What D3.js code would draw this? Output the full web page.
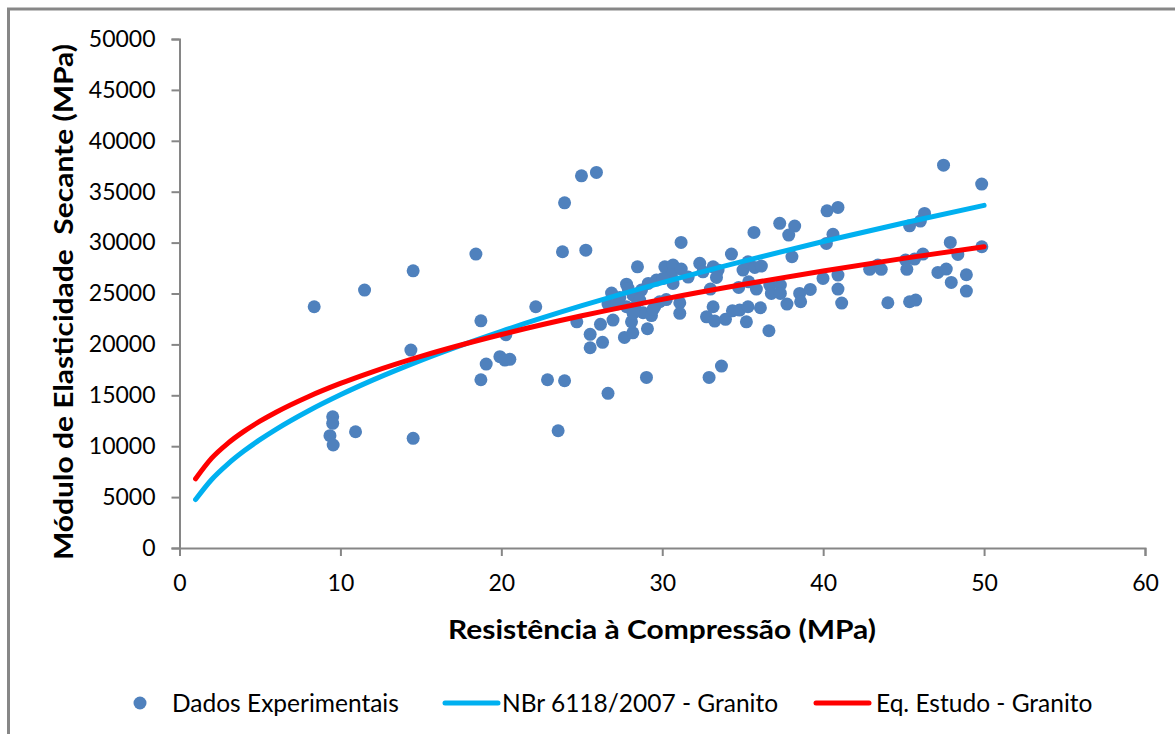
<!DOCTYPE html>
<html>
<head>
<meta charset="utf-8">
<script src="https://cdn.jsdelivr.net/npm/d3@7/dist/d3.min.js"></script>
<style>
  html, body { margin: 0; padding: 0; background: #fff; }
  svg { display: block; font-family: Lato, "Open Sans", sans-serif; }
</style>
</head>
<body>
<svg id="chart" width="1175" height="734"></svg>
<script>
// Experimental results: compressive strength (MPa) vs secant modulus (MPa)
const expX = [
  8.37, 11.5, 14.52, 18.42, 23.8, 22.14, 18.73, 20.28, 14.38, 19.91,
  20.53, 20.22, 19.06, 18.73, 22.87, 23.93, 9.52, 9.52, 9.35, 9.55,
  10.94, 14.52, 23.53, 24.98, 25.91, 23.93, 25.25, 31.17, 28.46, 24.69,
  26.16, 25.52, 25.52, 26.29, 27.65, 28.17, 29.08, 26.63, 29.02, 26.85,
  26.63, 27.36, 27.78, 27.88, 28.19, 28.71, 28.6, 27.78, 27.16, 29.13,
  29.64, 30.16, 30.67, 30.57, 30.67, 31.18, 31.61, 32.33, 26.94, 28.09,
  28.81, 29.33, 29.53, 29.84, 30.25, 31.09, 31.09, 30.05, 28.29, 29.43,
  28.19, 40.24, 40.92, 37.3, 38.23, 37.86, 35.7, 40.61, 40.2, 34.3,
  38.06, 32.53, 33.16, 33.47, 33.37, 35.02, 35.33, 35.75, 36.16, 32.99,
  34.75, 35.37, 35.85, 36.68, 36.78, 37.34, 37.34, 37.75, 38.54, 38.6,
  39.2, 39.99, 40.92, 40.92, 41.15, 33.16, 32.75, 33.26, 33.93, 34.36,
  34.81, 35.33, 35.23, 36.1, 36.63, 33.68, 32.91, 47.48, 49.85, 46.3,
  46.04, 45.37, 47.9, 48.37, 49.86, 46.2, 45.12, 45.68, 45.2, 43.4,
  42.89, 43.61, 47.13, 47.65, 47.96, 48.9, 48.9, 44.02, 45.37, 45.75
];
const expY = [
  23700, 25340, 27230, 28870, 29100, 23700, 22320, 20950, 19440, 18790,
  18530, 18460, 18070, 16530, 16530, 16430, 12890, 12250, 11030, 10120,
  11420, 10770, 11520, 36560, 36890, 33910, 29260, 30020, 27620, 22220,
  21970, 20990, 19670, 20200, 20690, 21140, 21540, 15190, 16760, 25040,
  23960, 24600, 25920, 25500, 24840, 25340, 24350, 23700, 23960, 25990,
  26320, 27620, 27790, 26810, 25990, 27400, 26610, 27960, 22390, 22220,
  23110, 22830, 23700, 24190, 24400, 24090, 23050, 26480, 23700, 23440,
  23050, 33120, 33460, 31890, 31620, 30740, 31000, 30810, 29920, 28870,
  28610, 27130, 27620, 27300, 26580, 27300, 28110, 27560, 27690, 25430,
  25600, 26150, 25430, 25830, 25010, 25830, 25010, 23960, 25010, 24190,
  25400, 26480, 26810, 25430, 24060, 23700, 22710, 22290, 22460, 23300,
  23370, 23700, 22220, 23600, 21340, 17870, 16760, 37610, 35750, 32870,
  32110, 31650, 30020, 28840, 29590, 28870, 28280, 28380, 27370, 27790,
  27370, 27370, 27070, 27400, 26090, 26840, 25240, 24090, 24190, 24350
];

// Model curves sampled along the strength range
const curveX   = [1, 2, 3, 4, 5, 6, 8, 10, 12, 15, 20, 25, 30, 35, 40, 45, 50];
const nbrE     = [4760, 6732, 8245, 9520, 10644, 11660, 13463, 15052, 16489, 18435,
                  21287, 23800, 26072, 28161, 30105, 31931, 33658];
const estudoE  = [6800, 8825, 10278, 11452, 12454, 13338, 14862, 16164, 17309, 18824,
                  20973, 22811, 24426, 25885, 27218, 28453, 29600];

const xTicks = [0, 10, 20, 30, 40, 50, 60];
const yTicks = [0, 5000, 10000, 15000, 20000, 25000, 30000, 35000, 40000, 45000, 50000];

const legendLabels = ["Dados Experimentais", "NBr 6118/2007 - Granito", "Eq. Estudo - Granito"];
const xTitle = "Resistência à Compressão (MPa)";
const yTitle = "Módulo de Elasticidade  Secante (MPa)";

const colors = { points: "#4F81BD", nbr: "#00B0F0", estudo: "#FF0000", axis: "#868686" };

const svg = d3.select("#chart");

// outer chart frame
svg.append("rect")
  .attr("x", 8.5).attr("y", 9)
  .attr("width", 1200).attr("height", 800)
  .attr("fill", "none").attr("stroke", "#878787").attr("stroke-width", 3);

const x = d3.scaleLinear().domain([0, 60]).range([179.5, 1145]);
const y = d3.scaleLinear().domain([0, 50000]).range([548, 39]);

// axes
const xAxis = svg.append("g")
  .attr("transform", `translate(0,${y(0)})`)
  .call(d3.axisBottom(x).tickValues(xTicks).tickSize(8).tickPadding(14).tickFormat(d3.format("d")));
const yAxis = svg.append("g")
  .attr("transform", `translate(${x(0)},0)`)
  .call(d3.axisLeft(y).tickValues(yTicks).tickSize(8).tickPadding(16).tickFormat(d3.format("d")));

[xAxis, yAxis].forEach(g => {
  g.select(".domain").attr("stroke", colors.axis).attr("stroke-width", 2);
  g.selectAll(".tick line").attr("stroke", colors.axis).attr("stroke-width", 2);
  g.selectAll(".tick text")
    .attr("fill", "#000")
    .style("font-family", "Lato, sans-serif")
    .style("font-size", "23px");
});
xAxis.selectAll(".tick text").attr("dy", "0.9em");

// axis titles
svg.append("text")
  .attr("x", 662).attr("y", 639)
  .attr("text-anchor", "middle")
  .style("font-weight", "bold").style("font-size", "27px")
  .attr("textLength", 428).attr("lengthAdjust", "spacingAndGlyphs")
  .text(xTitle);

svg.append("text")
  .attr("transform", "translate(73,302) rotate(-90)")
  .attr("text-anchor", "middle")
  .style("font-weight", "bold").style("font-size", "26px")
  .style("white-space", "pre")
  .attr("textLength", 516).attr("lengthAdjust", "spacingAndGlyphs")
  .text(yTitle);

// scatter
svg.append("g").selectAll("circle")
  .data(expX.map((v, i) => [v, expY[i]]))
  .join("circle")
  .attr("cx", d => x(d[0]))
  .attr("cy", d => y(d[1]))
  .attr("r", 6.5)
  .attr("fill", colors.points);

// model curves
const line = d3.line()
  .x((d, i) => x(curveX[i]))
  .y(d => y(d))
  .curve(d3.curveMonotoneX);

svg.append("path").datum(nbrE)
  .attr("d", line)
  .attr("fill", "none").attr("stroke", colors.nbr).attr("stroke-width", 5)
  .attr("stroke-linecap", "round");
svg.append("path").datum(estudoE)
  .attr("d", line)
  .attr("fill", "none").attr("stroke", colors.estudo).attr("stroke-width", 5)
  .attr("stroke-linecap", "round");

// legend
const legY = 703;
const leg = svg.append("g").style("font-size", "24.5px");
leg.append("circle").attr("cx", 140).attr("cy", legY).attr("r", 6.5).attr("fill", colors.points);
leg.append("text").attr("x", 172).attr("y", legY).attr("dy", "0.35em").text(legendLabels[0]);
leg.append("line").attr("x1", 445).attr("x2", 498).attr("y1", legY).attr("y2", legY)
  .attr("stroke", colors.nbr).attr("stroke-width", 5).attr("stroke-linecap", "round");
leg.append("text").attr("x", 502).attr("y", legY).attr("dy", "0.35em").text(legendLabels[1]);
leg.append("line").attr("x1", 816).attr("x2", 869).attr("y1", legY).attr("y2", legY)
  .attr("stroke", colors.estudo).attr("stroke-width", 5).attr("stroke-linecap", "round");
leg.append("text").attr("x", 876).attr("y", legY).attr("dy", "0.35em").text(legendLabels[2]);
</script>
</body>
</html>
